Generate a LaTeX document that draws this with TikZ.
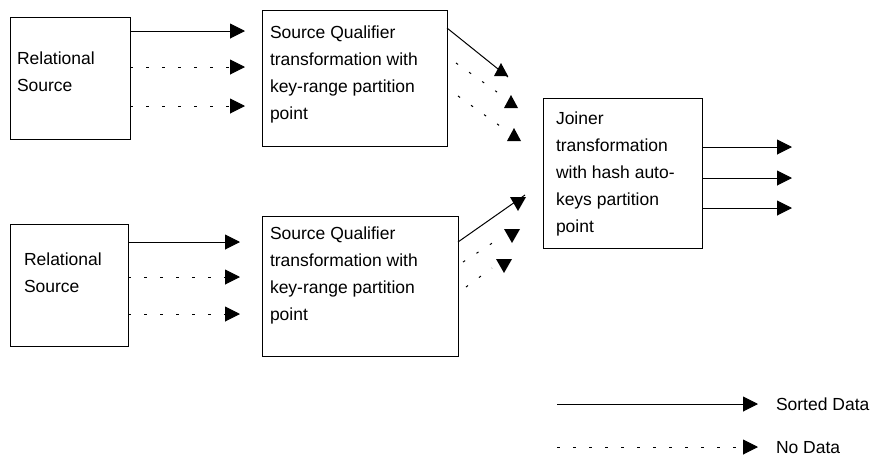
\documentclass[tikz,border=0pt]{standalone}
\usepackage{fontspec}
\setmainfont{Liberation Sans}
\usetikzlibrary{arrows.meta}
\tikzset{
  box/.style={draw, line width=1pt, inner sep=0pt, outer sep=0pt, anchor=north west},
  txt/.style={inner sep=0pt, outer sep=0pt, anchor=base west, align=left, font={\fontsize{17.5}{27}\selectfont}},
  solidarrow/.style={line width=1pt, -{Triangle[length=15pt,width=15pt]}},
  dotarrow/.style={line width=1pt, dash pattern=on 2.5pt off 13.5pt, -{Triangle[length=15pt,width=15pt]}},
  solidline/.style={line width=1pt},
  dotline/.style={line width=1pt, dash pattern=on 2.5pt off 13.5pt},
  tri/.style={fill=black}
}
\begin{document}
\begin{tikzpicture}[x=1pt,y=-1pt]
\useasboundingbox (0,0) rectangle (871,456);
% boxes
\node[box, minimum width=120pt, minimum height=122pt] (rs1) at (10,17) {};
\node[box, minimum width=185pt, minimum height=136pt] (sq1) at (262,10) {};
\node[box, minimum width=118pt, minimum height=122pt] (rs2) at (10,224) {};
\node[box, minimum width=196pt, minimum height=140pt] (sq2) at (262,216) {};
\node[box, minimum width=159pt, minimum height=150pt] (jn) at (543,98) {};
% texts (anchor at the baseline of the last line)
\node[txt] (rs1t) at (17,91) {Relational\\Source};
\node[txt] (sq1t) at (270,119) {Source Qualifier\\transformation with\\key-range partition\\point};
\node[txt] (rs2t) at (24,292) {Relational\\Source};
\node[txt] (sq2t) at (270,320) {Source Qualifier\\transformation with\\key-range partition\\point};
\node[txt] (jnt) at (556,232) {Joiner\\transformation\\with hash auto-\\keys partition\\point};
% source -> qualifier (upper)
\draw[solidarrow] (rs1.east |- 0,31) -- (245,31);
\draw[dotarrow] (rs1.east |- 0,67) -- (245,67);
\draw[dotarrow] (rs1.east |- 0,106) -- (245,106);
% source -> qualifier (lower)
\draw[solidarrow] (rs2.east |- 0,242) -- (240,242);
\draw[dotarrow] (rs2.east |- 0,277) -- (240,277);
\draw[dotarrow] (rs2.east |- 0,314) -- (240,314);
% upper diagonal connectors
\coordinate (u1e) at (508,77);
\coordinate (u2s) at (456,63);
\coordinate (u2e) at (497,92);
\coordinate (u3s) at (458,96);
\coordinate (u3e) at (500,126);
\draw[solidline] (sq1.east |- 0,28) -- (u1e);
\draw[dotline] (u2s) -- (u2e);
\draw[dotline] (u3s) -- (u3e);
\fill[tri] (494,76) -- (501,63) -- (508,76) -- cycle;
\fill[tri] (504,108) -- (511,95) -- (518,108) -- cycle;
\fill[tri] (507,141) -- (514,128) -- (521,141) -- cycle;
% lower diagonal connectors
\coordinate (l1e) at (525,195);
\coordinate (l2s) at (463,262);
\coordinate (l2e) at (497,240);
\coordinate (l3s) at (466,287);
\coordinate (l3e) at (492,268);
\draw[solidline] (sq2.east |- 0,242) -- (l1e);
\draw[dotline] (l2s) -- (l2e);
\draw[dotline] (l3s) -- (l3e);
\fill[tri] (510,197) -- (526,197) -- (518,211) -- cycle;
\fill[tri] (504,229) -- (520,229) -- (512,243) -- cycle;
\fill[tri] (496,259) -- (512,259) -- (504,273) -- cycle;
% joiner outputs
\draw[solidarrow] (jn.east |- 0,147) -- (792,147);
\draw[solidarrow] (jn.east |- 0,178) -- (792,178);
\draw[solidarrow] (jn.east |- 0,208) -- (792,208);
% legend
\coordinate (lg1s) at (557,404);
\coordinate (lg1e) at (758,404);
\coordinate (lg2s) at (557,447);
\coordinate (lg2e) at (758,447);
\draw[solidarrow] (lg1s) -- (lg1e);
\draw[dotarrow] (lg2s) -- (lg2e);
\node[txt] (lg1t) at (776,410) {Sorted Data};
\node[txt] (lg2t) at (776,453) {No Data};
\end{tikzpicture}
\end{document}
